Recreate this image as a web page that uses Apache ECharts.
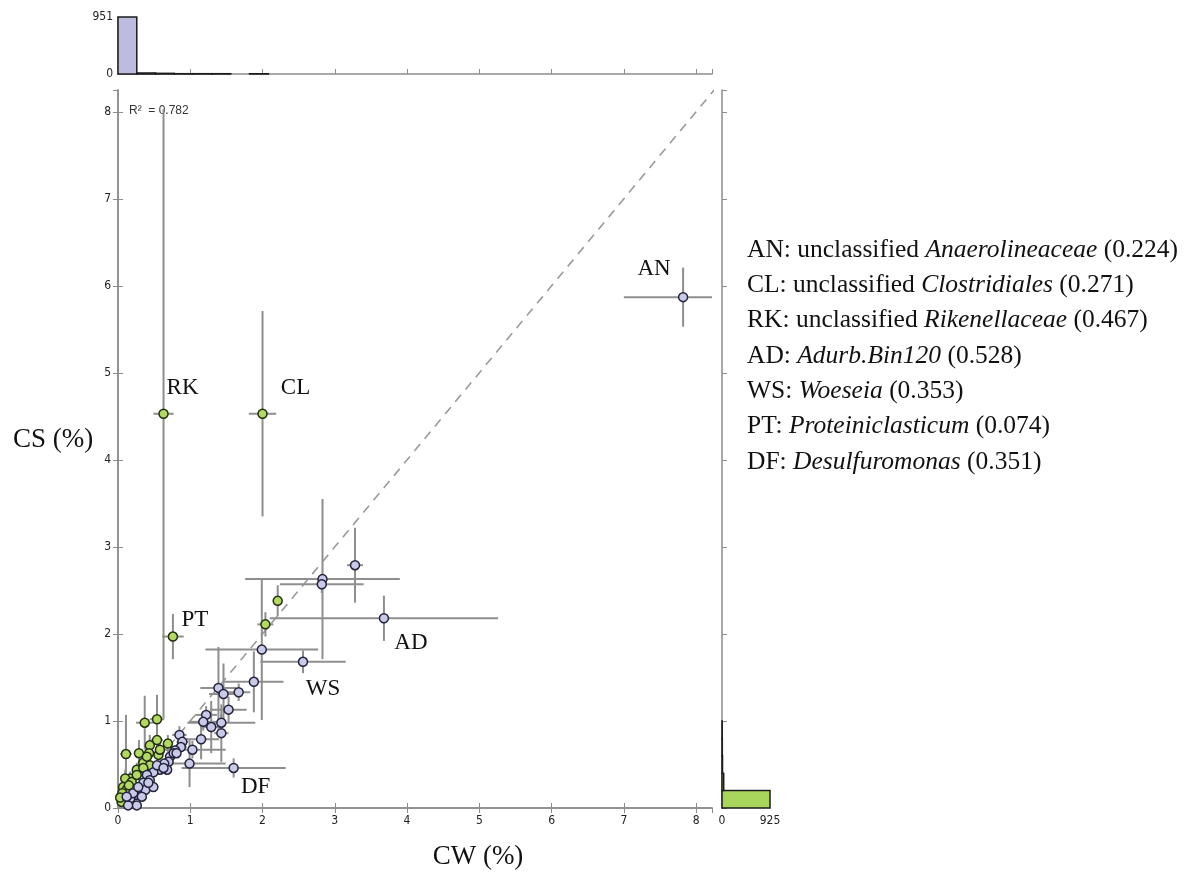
<!DOCTYPE html>
<html>
<head>
<meta charset="utf-8">
<script src="https://cdn.jsdelivr.net/npm/echarts@6/dist/echarts.min.js"></script>
<style>
  html, body { margin: 0; padding: 0; background: #fff; }
  #chart { width: 1196px; height: 876px; }
</style>
</head>
<body>
<div id="chart"></div>
<script>
// Genera: [CW mean %, CS mean %, CW spread, CS spread, tag]
const csEnriched = [
  [0.63, 4.53, 0.14, 3.50, 'RK'],
  [2.00, 4.53, 0.19, 1.18, 'CL'],
  [0.76, 1.97, 0.15, 0.26, 'PT'],
  [2.21, 2.38, 0.05, 0.18],
  [2.04, 2.11, 0.11, 0.14],
  [0.37, 0.98, 0.12, 0.31],
  [0.54, 1.02, 0.10, 0.28],
  [0.11, 0.62, 0.08, 0.45],
  [0.29, 0.63, 0.06, 0.15],
  [0.54, 0.78, 0.08, 0.20],
  [0.44, 0.72, 0.05, 0.12],
  [0.69, 0.74, 0.06, 0.10],
  [0.56, 0.61, 0.05, 0.15],
  [0.43, 0.63, 0.05, 0.10],
  [0.58, 0.67, 0.05, 0.08],
  [0.35, 0.52, 0.05, 0.10],
  [0.44, 0.49, 0.04, 0.08],
  [0.40, 0.59, 0.04, 0.08],
  [0.26, 0.44, 0.04, 0.08],
  [0.35, 0.46, 0.04, 0.06],
  [0.17, 0.34, 0.04, 0.08],
  [0.10, 0.34, 0.03, 0.10],
  [0.19, 0.30, 0.03, 0.06],
  [0.26, 0.38, 0.04, 0.06],
  [0.07, 0.24, 0.03, 0.06],
  [0.12, 0.21, 0.03, 0.05],
  [0.06, 0.17, 0.02, 0.05],
  [0.05, 0.07, 0.02, 0.04],
  [0.03, 0.12, 0.02, 0.04],
  [0.15, 0.26, 0.03, 0.05]
];

const cwEnriched = [
  [7.82, 5.87, 0.82, 0.34, 'AN'],
  [2.83, 2.63, 1.07, 0.92],
  [2.82, 2.57, 0.58, 0.10],
  [3.28, 2.79, 0.11, 0.43],
  [3.68, 2.18, 1.58, 0.26, 'AD'],
  [1.99, 1.82, 0.78, 0.81],
  [2.56, 1.68, 0.59, 0.13, 'WS'],
  [1.88, 1.45, 0.41, 0.35],
  [1.39, 1.38, 0.25, 0.47],
  [1.46, 1.31, 0.20, 0.35],
  [1.67, 1.33, 0.16, 0.10],
  [1.53, 1.13, 0.25, 0.15],
  [1.22, 1.07, 0.15, 0.10],
  [1.18, 0.99, 0.20, 0.10],
  [1.43, 0.98, 0.47, 0.10],
  [1.29, 0.93, 0.15, 0.30],
  [1.43, 0.86, 0.10, 0.33],
  [1.15, 0.79, 0.25, 0.23],
  [1.03, 0.67, 0.46, 0.10],
  [0.85, 0.84, 0.10, 0.10],
  [0.89, 0.76, 0.08, 0.08],
  [0.87, 0.70, 0.08, 0.06],
  [0.99, 0.51, 0.50, 0.27],
  [1.60, 0.46, 0.72, 0.11, 'DF'],
  [0.79, 0.66, 0.06, 0.06],
  [0.72, 0.59, 0.06, 0.06],
  [0.70, 0.53, 0.05, 0.05],
  [0.64, 0.51, 0.05, 0.05],
  [0.68, 0.44, 0.05, 0.05],
  [0.58, 0.44, 0.05, 0.05],
  [0.49, 0.41, 0.04, 0.05],
  [0.54, 0.49, 0.04, 0.04],
  [0.40, 0.38, 0.04, 0.04],
  [0.44, 0.32, 0.04, 0.04],
  [0.35, 0.29, 0.04, 0.04],
  [0.31, 0.21, 0.03, 0.04],
  [0.24, 0.15, 0.03, 0.04],
  [0.17, 0.11, 0.03, 0.03],
  [0.26, 0.03, 0.03, 0.03],
  [0.14, 0.03, 0.03, 0.03],
  [0.38, 0.21, 0.03, 0.04],
  [0.49, 0.24, 0.04, 0.04],
  [0.33, 0.13, 0.03, 0.03],
  [0.77, 0.63, 0.05, 0.05],
  [0.81, 0.63, 0.05, 0.05],
  [0.63, 0.46, 0.05, 0.05],
  [0.21, 0.17, 0.03, 0.03],
  [0.12, 0.13, 0.03, 0.03],
  [0.28, 0.24, 0.03, 0.03],
  [0.42, 0.29, 0.03, 0.03]
];

// Marginal histograms (bin edges and counts)
const cwHistEdges  = [0, 0.26, 0.52, 0.78, 1.04, 1.30, 1.56, 1.82, 2.08];
const cwHistCounts = [951, 17, 11, 5, 5, 5, 0, 4];
const csHistEdges  = [0, 0.2, 0.4, 0.6, 0.8, 1.0];
const csHistCounts = [925, 33, 10, 6, 4];

const xTicks = [0, 1, 2, 3, 4, 5, 6, 7, 8];
const yTicks = [0, 1, 2, 3, 4, 5, 6, 7, 8];
const rSquared = '0.782';
const xTitle = 'CW (%)';
const yTitle = 'CS (%)';

const legendLines = [
  ['AN', 'unclassified ', 'Anaerolineaceae', '0.224'],
  ['CL', 'unclassified ', 'Clostridiales', '0.271'],
  ['RK', 'unclassified ', 'Rikenellaceae', '0.467'],
  ['AD', '', 'Adurb.Bin120', '0.528'],
  ['WS', '', 'Woeseia', '0.353'],
  ['PT', '', 'Proteiniclasticum', '0.074'],
  ['DF', '', 'Desulfuromonas', '0.351']
];

const X_MAX = 8.22;
const Y_MAX = 8.25;
const tagOffsets = {
  AN: [-29, -28], RK: [19, -26], CL: [33, -26], PT: [22, -17],
  AD: [27, 25], WS: [20, 27], DF: [22, 19]
};

const tickFont = "'DejaVu Sans Condensed', 'Liberation Sans Narrow', 'DejaVu Sans', sans-serif";
const serif = "'Liberation Serif', 'DejaVu Serif', serif";
const frameColor = '#8c8c8c';

function errorBars(params, api) {
  const x = api.value(0), y = api.value(1), ex = api.value(2), ey = api.value(3);
  const cx = v => Math.max(0, Math.min(X_MAX, v));
  const cy = v => Math.max(0, Math.min(Y_MAX, v));
  const h0 = api.coord([cx(x - ex), y]), h1 = api.coord([cx(x + ex), y]);
  const v0 = api.coord([x, cy(y - ey)]), v1 = api.coord([x, cy(y + ey)]);
  const style = { stroke: '#8e8e8e', lineWidth: 2 };
  return {
    type: 'group',
    children: [
      { type: 'line', shape: { x1: h0[0], y1: h0[1], x2: h1[0], y2: h1[1] }, style },
      { type: 'line', shape: { x1: v0[0], y1: v0[1], x2: v1[0], y2: v1[1] }, style }
    ]
  };
}

function pointData(list) {
  return list.map(p => {
    const item = { value: [p[0], p[1]] };
    if (p[4]) {
      item.label = {
        show: true, formatter: p[4], position: 'inside', offset: tagOffsets[p[4]],
        fontFamily: serif, fontSize: 23, color: '#111'
      };
    }
    return item;
  });
}

const chart = echarts.init(document.getElementById('chart'), null, { renderer: 'canvas' });

const axisLineStyle = { show: true, lineStyle: { color: frameColor, width: 1.5 } };
const innerTick = { show: true, inside: true, length: 5, lineStyle: { color: frameColor, width: 1 } };
const labelStyle = { color: '#222', fontSize: 12, fontFamily: tickFont };

chart.setOption({
  backgroundColor: '#fff',
  animation: false,
  grid: [
    { left: 118, top: 90, width: 594, height: 718, outerBoundsMode: 'none' },
    { left: 118, top: 17, width: 594, height: 57, outerBoundsMode: 'none' },
    { left: 722, top: 90, width: 48, height: 718, outerBoundsMode: 'none' }
  ],
  xAxis: [
    {
      gridIndex: 0, type: 'value', min: 0, max: X_MAX, interval: 1, position: 'bottom',
      axisLine: axisLineStyle, axisTick: innerTick, splitLine: { show: false },
      axisLabel: Object.assign({ margin: 7, formatter: v => (xTicks.indexOf(v) >= 0 ? String(v) : ''), showMaxLabel: false }, labelStyle)
    },
    {
      gridIndex: 0, type: 'value', min: 0, max: X_MAX, interval: 1, position: 'top',
      axisLine: axisLineStyle, axisTick: innerTick, splitLine: { show: false },
      axisLabel: { show: false }
    },
    {
      gridIndex: 1, type: 'value', min: 0, max: X_MAX, interval: 1, position: 'bottom',
      axisLine: axisLineStyle, axisTick: innerTick, splitLine: { show: false },
      axisLabel: { show: false }
    },
    {
      gridIndex: 2, type: 'value', min: 0, max: 925, interval: 925, position: 'bottom',
      axisLine: { show: false }, axisTick: { show: false }, splitLine: { show: false },
      axisLabel: Object.assign({ margin: 7 }, labelStyle)
    }
  ],
  yAxis: [
    {
      gridIndex: 0, type: 'value', min: 0, max: Y_MAX, interval: 1, position: 'left',
      axisLine: axisLineStyle, axisTick: innerTick, splitLine: { show: false },
      axisLabel: Object.assign({ margin: 7, formatter: v => (yTicks.indexOf(v) >= 0 ? String(v) : ''), showMaxLabel: false }, labelStyle)
    },
    {
      gridIndex: 0, type: 'value', min: 0, max: Y_MAX, interval: 1, position: 'right',
      axisLine: axisLineStyle, axisTick: innerTick, splitLine: { show: false },
      axisLabel: { show: false }
    },
    {
      gridIndex: 1, type: 'value', min: 0, max: 951, interval: 951, position: 'left',
      axisLine: axisLineStyle, axisTick: { show: true, inside: true, length: 4, lineStyle: { color: frameColor } },
      splitLine: { show: false },
      axisLabel: Object.assign({ margin: 5 }, labelStyle)
    },
    {
      gridIndex: 2, type: 'value', min: 0, max: Y_MAX, interval: 1, position: 'left',
      axisLine: axisLineStyle, axisTick: innerTick, splitLine: { show: false },
      axisLabel: { show: false }
    }
  ],
  series: [
    {
      name: 'identity', type: 'line', xAxisIndex: 0, yAxisIndex: 0,
      data: [[0, 0], [Y_MAX + 0.1, Y_MAX + 0.1]], symbol: 'none', clip: true, silent: true,
      lineStyle: { color: '#9a9a9a', width: 1.6, type: [9, 7] }, z: 1
    },
    {
      name: 'errors', type: 'custom', xAxisIndex: 0, yAxisIndex: 0,
      data: csEnriched.concat(cwEnriched).map(p => p.slice(0, 4)),
      encode: { x: 0, y: 1 }, renderItem: errorBars, silent: true, z: 2
    },
    {
      name: 'CS', type: 'scatter', xAxisIndex: 0, yAxisIndex: 0,
      data: pointData(csEnriched), symbol: 'circle', symbolSize: 9,
      itemStyle: { color: '#b3d865', borderColor: '#23300f', borderWidth: 1.5, opacity: 1 }, z: 3
    },
    {
      name: 'CW', type: 'scatter', xAxisIndex: 0, yAxisIndex: 0,
      data: pointData(cwEnriched), symbol: 'circle', symbolSize: 9,
      itemStyle: { color: '#c9c9e8', borderColor: '#24243f', borderWidth: 1.5, opacity: 1 }, z: 4
    },
    {
      name: 'CW histogram', type: 'custom', xAxisIndex: 2, yAxisIndex: 2,
      data: cwHistCounts.map((c, i) => [cwHistEdges[i], cwHistEdges[i + 1], c]),
      encode: { x: [0, 1], y: 2 }, silent: true,
      renderItem: (params, api) => {
        if (api.value(2) <= 0) return null;
        const a = api.coord([api.value(0), api.value(2)]);
        const b = api.coord([api.value(1), 0]);
        return {
          type: 'rect', shape: { x: a[0], y: a[1], width: b[0] - a[0], height: b[1] - a[1] },
          style: { fill: '#bcbcdf', stroke: '#1c1c1c', lineWidth: 1.5 }
        };
      }
    },
    {
      name: 'CS histogram', type: 'custom', xAxisIndex: 3, yAxisIndex: 3,
      data: csHistCounts.map((c, i) => [csHistEdges[i], csHistEdges[i + 1], c]),
      encode: { x: 2, y: [0, 1] }, silent: true,
      renderItem: (params, api) => {
        if (api.value(2) <= 0) return null;
        const a = api.coord([0, api.value(1)]);
        const b = api.coord([api.value(2), api.value(0)]);
        return {
          type: 'rect', shape: { x: a[0], y: a[1], width: b[0] - a[0], height: b[1] - a[1] },
          style: { fill: '#a8d65c', stroke: '#1c1c1c', lineWidth: 1.5 }
        };
      }
    }
  ],
  graphic: [
    {
      type: 'text', left: 129, top: 105,
      style: { text: 'R\u00b2  = ' + rSquared, font: "12px 'Liberation Sans', 'DejaVu Sans', sans-serif", fill: '#333' }
    },
    {
      type: 'text', x: 478, y: 857,
      style: { text: xTitle, font: "27px 'Liberation Serif', serif", fill: '#111', align: 'center', verticalAlign: 'middle' }
    },
    {
      type: 'text', x: 53, y: 440,
      style: { text: yTitle, font: "27px 'Liberation Serif', serif", fill: '#111', align: 'center', verticalAlign: 'middle' }
    }
  ].concat(legendLines.map((l, i) => ({
    type: 'text', x: 747, y: 250 + i * 35.3,
    style: {
      text: '{n|' + l[0] + ': ' + l[1] + '}{i|' + l[2] + '}{n| (' + l[3] + ')}',
      verticalAlign: 'middle',
      rich: {
        n: { fontFamily: serif, fontSize: 25.5, fill: '#111', color: '#111' },
        i: { fontFamily: serif, fontSize: 25.5, fontStyle: 'italic', fill: '#111', color: '#111' }
      }
    }
  })))
});
</script>
</body>
</html>
